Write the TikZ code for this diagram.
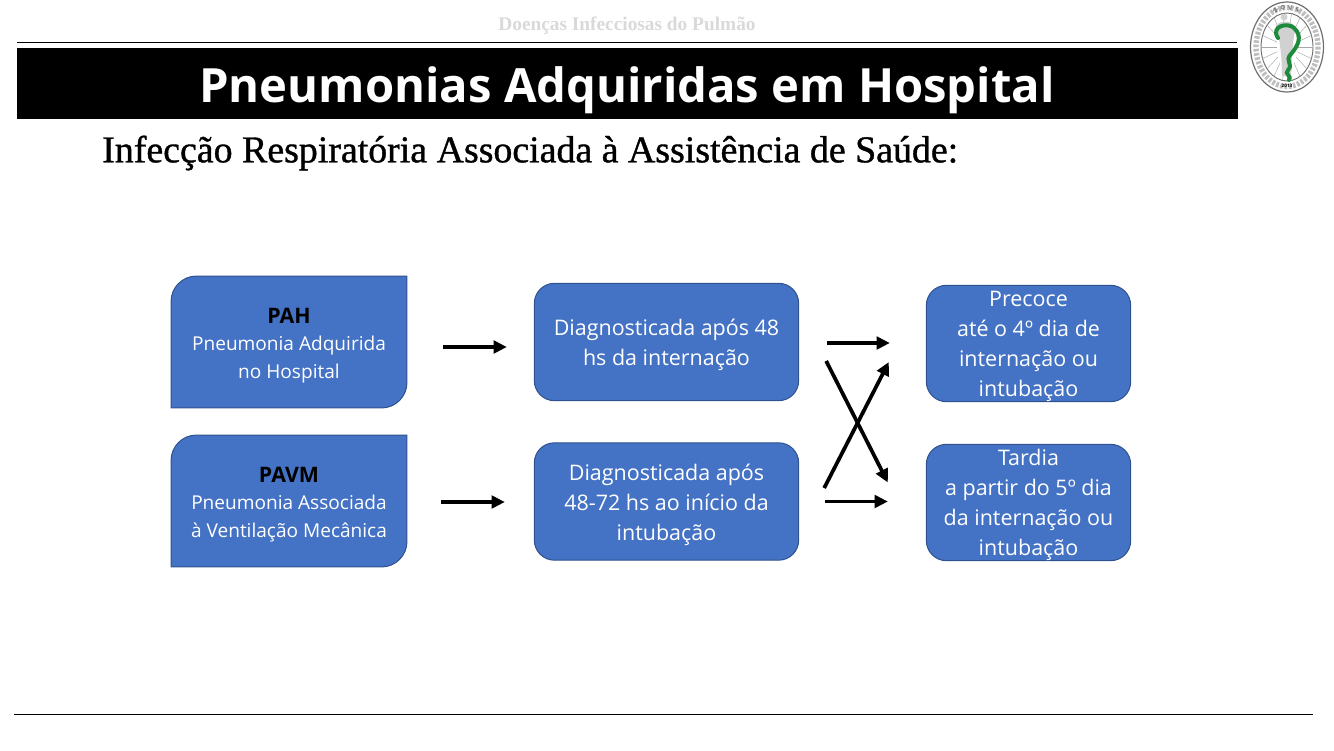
\documentclass[tikz,border=0pt]{standalone}
\usepackage{fontspec}
\setmainfont{Open Sans}
\newfontfamily\headfont{Liberation Serif}
\newfontfamily\subfont[FakeBold=1]{Liberation Serif}
\usetikzlibrary{positioning,arrows.meta,backgrounds,calc}
\definecolor{boxblue}{HTML}{4472C4}
\definecolor{boxedge}{HTML}{2F528F}
\definecolor{headgrey}{HTML}{D9D9D9}
\definecolor{snakegreen}{HTML}{1E8A3C}
\definecolor{ringgrey}{HTML}{6E6E6E}
\newcommand{\toppad}[1]{\rule{0pt}{#1pt}}
\tikzset{
  blk/.style={rectangle, rounded corners=15pt, draw=boxedge, fill=boxblue,
              line width=0.75pt, align=center, text=white,
              font=\fontsize{16.1}{22.4}\selectfont, inner sep=0pt},
  lft/.style={rectangle, align=center, text=white, inner sep=0pt,
              minimum width=176.5pt, minimum height=98.5pt,
              font=\fontsize{14.3}{20.6}\selectfont},
  mid/.style={blk, minimum width=198.25pt, minimum height=88pt},
  rgt/.style={blk, minimum width=153.25pt, minimum height=87.25pt},
  ar/.style={-{Triangle[length=10pt,width=9.5pt]}, line width=2.8pt, draw=black},
  rule/.style={draw=black, line width=0.75pt},
}
\begin{document}
\begin{tikzpicture}[x=0.75pt,y=-0.75pt]
  \useasboundingbox (0,0) rectangle (1334,750);
  % header
  \node[font=\headfont\bfseries\fontsize{14.5}{16}\selectfont, text=headgrey] (header) at (627,26) {Doenças Infecciosas do Pulmão};
  \coordinate (ruleA) at (17,42);
  \coordinate (ruleB) at (1237,42);
  \draw[rule] (ruleA) -- (ruleB);
  \fill[black] (17,48) rectangle (1238,119);
  \node[font=\bfseries\fontsize{35.4}{40}\selectfont, text=white] (title) at (627,90) {Pneumonias Adquiridas em Hospital};
  \node[font=\subfont\fontsize{28.4}{32}\selectfont, anchor=west, inner sep=0pt] (subtitle) at (102,153) {Infecção Respiratória Associada à Assistência de Saúde:};
  \coordinate (ruleC) at (14,714);
  \coordinate (ruleD) at (1313,714);
  \draw[rule] (ruleC) -- (ruleD);

  % logo
  \draw[ringgrey, line width=0.9pt] (1287,47) ellipse [x radius=36.5, y radius=45];
  \draw[ringgrey, line width=0.7pt] (1287,47) ellipse [x radius=26, y radius=34];
  \draw[ringgrey!45, line width=4pt, dash pattern=on 2pt off 1.2pt] (1287,47) ellipse [x radius=31, y radius=39.5];
  \foreach \a in {0,20,...,340}
    \draw[ringgrey!60, line width=0.35pt] (1287,47) -- ++(\a:26 and 34);
  \fill[white] (1287,47) ellipse [x radius=10, y radius=22];
  \fill[black!18] (1284,17) circle (3.5);
  \fill[black!18] (1276,25) .. controls (1282,20) and (1290,20) .. (1296,27) .. controls (1292,42) and (1292,60) .. (1291,76) -- (1282,76) .. controls (1282,60) and (1280,40) .. (1276,25) -- cycle;
  \draw[snakegreen, line width=3pt, line cap=round] (1278,38) .. controls (1270,26) and (1288,22) .. (1294,28) .. controls (1303,36) and (1298,46) .. (1291,54) .. controls (1284,61) and (1294,64) .. (1288,70) .. controls (1284,74) and (1292,76) .. (1289,80);
  \foreach \t/\a in {N/-112,O/-98,V/-84,E/-70}
    \node[font=\fontsize{4.5}{5}\selectfont\bfseries, text=ringgrey, inner sep=0pt, rotate=\a+90] (logo\t) at ($(1287,47)+(\a:31 and 39.5)$) {\t};
  \node[font=\fontsize{3.5}{4}\selectfont\bfseries, text=black, inner sep=0pt] (logoyear) at (1287,86) {2013};

  % boxes
  \node[lft] (pah) at (289,342) {\toppad{16.25}\textcolor{black}{\fontsize{16}{20.6}\selectfont\bfseries PAH}\\Pneumonia Adquirida\\no Hospital};
  \node[lft] (pavm) at (289,501) {\toppad{16.25}\textcolor{black}{\fontsize{16}{20.6}\selectfont\bfseries PAVM}\\Pneumonia Associada\\à Ventilação Mecânica};
  \begin{scope}[on background layer]
    \foreach \n in {pah,pavm}
      \draw[draw=boxedge, fill=boxblue, line width=0.75pt]
        (\n.west) [rounded corners=19pt] |- (\n.north) [sharp corners] -| (\n.east)
        [rounded corners=19pt] |- (\n.south) [sharp corners] -| (\n.west);
  \end{scope}
  \node[mid] (apos48) at (666.5,342) {\toppad{17}Diagnosticada após 48\\hs da internação};
  \node[mid] (apos72) at (666.5,501.5) {\toppad{17}Diagnosticada após\\48-72 hs ao início da\\intubação};
  \node[rgt] (precoce) at (1028.5,343.5) {\toppad{15.5}Precoce\\até o 4º dia de\\internação ou\\intubação};
  \node[rgt] (tardia) at (1028.5,502.5) {\toppad{15.5}Tardia\\a partir do 5º dia\\da internação ou\\intubação};

  % arrows
  \draw[ar] ([shift={(36,5)}]pah.east) -- ([shift={(-27,5)}]apos48.west);
  \draw[ar] ([shift={(34,1)}]pavm.east) -- ([shift={(-29,0.5)}]apos72.west);
  \draw[ar] ([shift={(28,1)}]apos48.east) -- ([shift={(-36,-0.5)}]precoce.west);
  \draw[ar] ([shift={(26,0)}]apos72.east) -- ([shift={(-38,-1)}]tardia.west);
  \draw[ar] ([shift={(27,19)}]apos48.east) -- ([shift={(-38,-20)}]tardia.west);
  \draw[ar] ([shift={(25,-13.5)}]apos72.east) -- ([shift={(-37,18.5)}]precoce.west);
\end{tikzpicture}
\end{document}
